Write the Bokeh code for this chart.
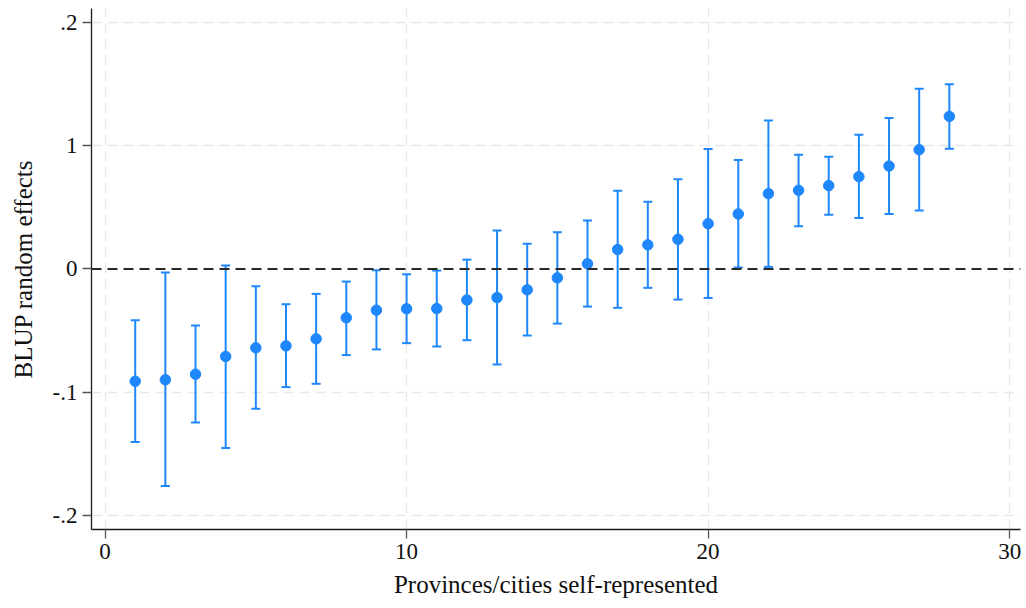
from bokeh.plotting import figure
from bokeh.models import ColumnDataSource, Whisker, TeeHead, Span, FixedTicker, Range1d
from bokeh.embed import file_html
from bokeh.resources import INLINE

# Data
rank = list(range(1, 29))
estimate = [-0.0912, -0.0900, -0.0855, -0.0711, -0.0641, -0.0625, -0.0568, -0.0397,
            -0.0335, -0.0324, -0.0322, -0.0252, -0.0233, -0.0170, -0.0073, 0.0041,
            0.0157, 0.0195, 0.0240, 0.0367, 0.0446, 0.0611, 0.0638, 0.0676,
            0.0749, 0.0835, 0.0968, 0.1238]
lower = [-0.1406, -0.1763, -0.1247, -0.1455, -0.1136, -0.0960, -0.0933, -0.0700,
         -0.0654, -0.0603, -0.0630, -0.0579, -0.0776, -0.0541, -0.0444, -0.0306,
         -0.0316, -0.0154, -0.0249, -0.0236, 0.0011, 0.0016, 0.0346, 0.0440,
         0.0414, 0.0446, 0.0473, 0.0976]
upper = [-0.0417, -0.0030, -0.0460, 0.0027, -0.0141, -0.0287, -0.0203, -0.0103,
         -0.0011, -0.0044, -0.0014, 0.0075, 0.0311, 0.0203, 0.0297, 0.0392,
         0.0635, 0.0546, 0.0727, 0.0973, 0.0884, 0.1205, 0.0927, 0.0911,
         0.1089, 0.1224, 0.1462, 0.1500]

x_ticks = [0, 10, 20, 30]
y_ticks = [-0.2, -0.1, 0, 0.1, 0.2]
y_tick_labels = {-0.2: "-.2", -0.1: "-.1", 0: "0", 0.1: "1", 0.2: ".2"}

x_label = "Provinces/cities self-represented"
y_label = "BLUP random effects"

BLUE = "#1e87fb"
FONT = "Liberation Serif"

src = ColumnDataSource(dict(x=rank, est=estimate, lo=lower, hi=upper))

p = figure(width=1026, height=608, output_backend="svg", toolbar_location=None,
           x_range=Range1d(-0.45, 30.36), y_range=Range1d(-0.2116, 0.2114),
           min_border_left=91, min_border_right=6, min_border_top=8, min_border_bottom=79)
p.outline_line_color = None
p.background_fill_color = "white"
p.border_fill_color = "white"

# grid
for g in (p.xgrid, p.ygrid):
    g.grid_line_color = "#e8e8e8"
    g.grid_line_dash = "10 6"
    g.grid_line_width = 1.3
p.xaxis.ticker = FixedTicker(ticks=x_ticks)
p.yaxis.ticker = FixedTicker(ticks=y_ticks)
p.yaxis.major_label_overrides = y_tick_labels

for ax in (p.xaxis[0], p.yaxis[0]):
    ax.axis_line_color = "#1a1a1a"
    ax.axis_line_width = 1.3
    ax.major_tick_line_color = "#555555"
    ax.major_tick_line_width = 1.3
    ax.major_tick_in = 0
    ax.major_tick_out = 9
    ax.minor_tick_line_color = None
    ax.major_label_text_font = FONT
    ax.major_label_text_font_size = "23px"
    ax.major_label_text_color = "#111111"
    ax.major_label_standoff = 5
    ax.axis_label_text_font = FONT
    ax.axis_label_text_font_size = "25px"
    ax.axis_label_text_font_style = "normal"
    ax.axis_label_text_color = "#111111"

p.xaxis.axis_label = x_label
p.yaxis.axis_label = y_label
p.xaxis.axis_label_standoff = 9
p.yaxis.axis_label_standoff = 13
p.yaxis.major_label_orientation = "horizontal"

# zero reference line
p.add_layout(Span(location=0, dimension="width", line_color="#2a2a2a",
                  line_width=2, line_dash="10 6"))

# error bars
w = Whisker(source=src, base="x", lower="lo", upper="hi", line_color=BLUE, line_width=2,
            upper_head=TeeHead(size=9, line_color=BLUE, line_width=2),
            lower_head=TeeHead(size=9, line_color=BLUE, line_width=2))
p.add_layout(w)

p.scatter("x", "est", source=src, size=10.5, fill_color=BLUE, line_color=BLUE)

open("out.html", "w").write(file_html(p, INLINE))
